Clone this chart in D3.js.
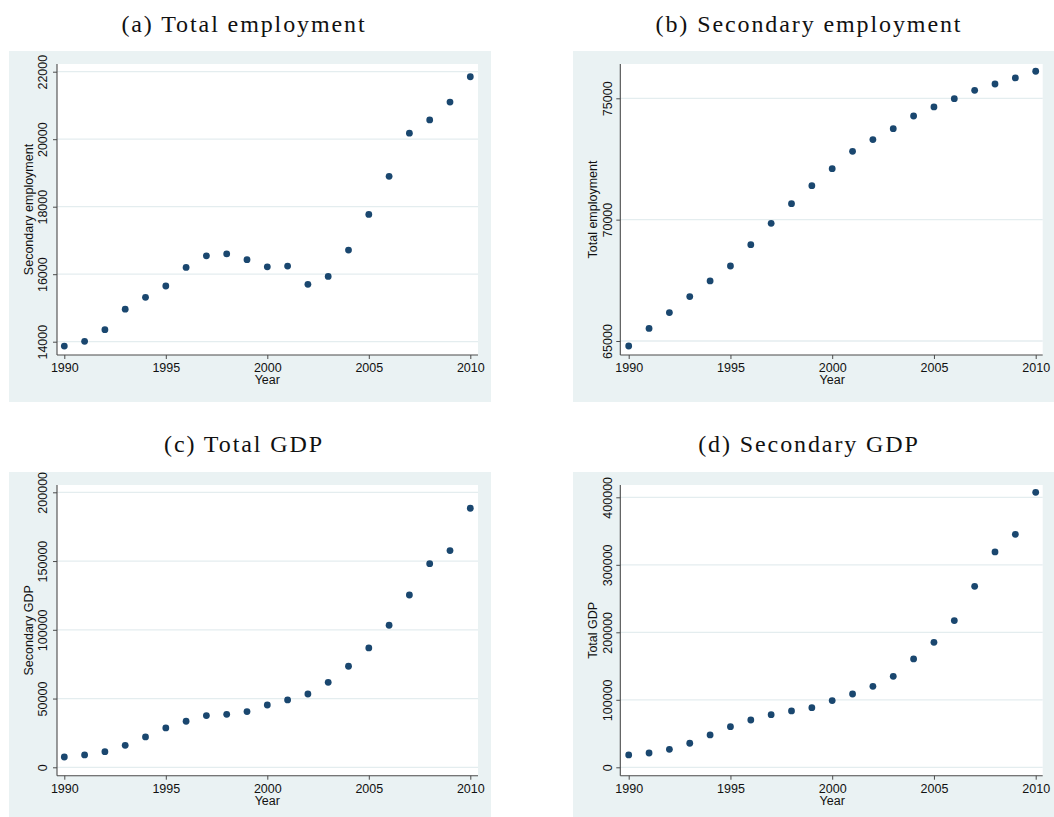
<!DOCTYPE html>
<html>
<head>
<meta charset="utf-8">
<script src="https://cdn.jsdelivr.net/npm/d3@7"></script>
<style>
  html, body { margin: 0; padding: 0; background: #ffffff; }
  svg { display: block; }
</style>
</head>
<body>
<svg id="chart" width="1054" height="817"></svg>
<script>
// Years on the horizontal axis of every panel
const years = d3.range(1990, 2011);
const yearTicks = [1990, 1995, 2000, 2005, 2010];

// Series plotted in each panel (one value per year, 1990-2010)
const secondaryEmployment = [13870, 14010, 14355, 14965, 15315, 15650, 16200, 16545, 16605, 16430, 16220,
  16240, 15700, 15935, 16715, 17770, 18900, 20180, 20570, 21100, 21850];
const totalEmployment = [64795, 65520, 66170, 66830, 67475, 68090, 68970, 69850, 70660, 71400, 72100,
  72815, 73300, 73750, 74270, 74645, 74985, 75330, 75590, 75840, 76115];
const secondaryGDP = [7500, 9000, 11400, 16000, 22100, 28600, 33500, 37600, 38500, 40500, 45300,
  49000, 53300, 61800, 73500, 86800, 103300, 125300, 148100, 157600, 188400];
const totalGDP = [18300, 21200, 26700, 35600, 47900, 60200, 70100, 78000, 83500, 88400, 98800,
  108600, 120000, 134800, 160500, 185200, 217300, 268100, 319000, 345200, 407400];

// Vertical-axis tick values per panel
const ticksA = [14000, 16000, 18000, 20000, 22000];
const ticksB = [65000, 70000, 75000];
const ticksC = [0, 50000, 100000, 150000, 200000];
const ticksD = [0, 100000, 200000, 300000, 400000];

// Panel titles and axis titles
const titles = ["(a) Total employment", "(b) Secondary employment", "(c) Total GDP", "(d) Secondary GDP"];
const yTitles = ["Secondary employment", "Total employment", "Secondary GDP", "Total GDP"];

const BG = "#eaf2f3";
const GRID = "#e4edef";
const MARK = "#1a476f";
const AXIS = "#4a4a4a";

const panels = [
  { title: titles[0], yTitle: yTitles[0], values: secondaryEmployment, ticks: ticksA,
    bg: [9, 51, 491, 402], plot: [57, 64, 478, 355], xr: [64.3, 470.3], yr: [341.7, 71.7],
    titleX: 244, titleY: 32, ytx: 32.5, ylx: 46.5 },
  { title: titles[1], yTitle: yTitles[1], values: totalEmployment, ticks: ticksB,
    bg: [573, 51, 1054, 402], plot: [620.3, 64, 1042.7, 355], xr: [628.7, 1035.7], yr: [341, 98.3],
    titleX: 809, titleY: 32, ytx: 596.5, ylx: 611.5 },
  { title: titles[2], yTitle: yTitles[2], values: secondaryGDP, ticks: ticksC,
    bg: [9, 472, 491, 817], plot: [57, 485, 478, 775.7], xr: [64.3, 470.3], yr: [767.3, 492.3],
    titleX: 244, titleY: 452, ytx: 32.5, ylx: 46.5 },
  { title: titles[3], yTitle: yTitles[3], values: totalGDP, ticks: ticksD,
    bg: [573, 472, 1054, 817], plot: [620.3, 485, 1042.7, 775.7], xr: [628.7, 1035.7], yr: [767.3, 497.3],
    titleX: 809, titleY: 452, ytx: 596.5, ylx: 611.5 }
];

const svg = d3.select("#chart");

panels.forEach(p => {
  const g = svg.append("g");
  const [bx0, by0, bx1, by1] = p.bg;
  const [px0, py0, px1, py1] = p.plot;

  const x = d3.scaleLinear().domain([1990, 2010]).range(p.xr);
  const y = d3.scaleLinear().domain(d3.extent(p.ticks)).range(p.yr);

  // Panel title (LaTeX-style caption)
  g.append("text")
    .attr("x", p.titleX).attr("y", p.titleY)
    .attr("text-anchor", "middle")
    .attr("font-family", "'Liberation Serif', 'Times New Roman', serif")
    .attr("font-size", 24)
    .attr("letter-spacing", 1.9)
    .attr("fill", "#111")
    .text(p.title);

  // Graph region and plot region
  g.append("rect").attr("x", bx0).attr("y", by0).attr("width", bx1 - bx0).attr("height", by1 - by0).attr("fill", BG);
  g.append("rect").attr("x", px0).attr("y", py0).attr("width", px1 - px0).attr("height", py1 - py0).attr("fill", "#ffffff");

  // Horizontal grid lines
  g.append("g").selectAll("line").data(p.ticks).join("line")
    .attr("x1", px0).attr("x2", px1)
    .attr("y1", d => y(d)).attr("y2", d => y(d))
    .attr("stroke", GRID).attr("stroke-width", 1.3);

  // Y axis
  const ya = g.append("g").attr("transform", `translate(${px0},0)`)
    .call(d3.axisLeft(y).tickValues(p.ticks).tickSize(4).tickFormat(d3.format("d")));
  ya.select(".domain").remove();
  ya.selectAll(".tick line").attr("stroke", AXIS);
  ya.selectAll(".tick text")
    .attr("x", null).attr("dy", null)
    .attr("transform", `translate(${p.ylx - px0},0) rotate(-90)`)
    .attr("text-anchor", "middle")
    .attr("font-family", "'Liberation Sans', Arial, sans-serif")
    .attr("font-size", 12.5)
    .attr("fill", "#111");

  // X axis
  const xa = g.append("g").attr("transform", `translate(0,${py1})`)
    .call(d3.axisBottom(x).tickValues(yearTicks).tickSize(4).tickPadding(4).tickFormat(d3.format("d")));
  xa.select(".domain").remove();
  xa.selectAll(".tick line").attr("stroke", AXIS);
  xa.selectAll(".tick text")
    .attr("dy", "0.71em")
    .attr("font-family", "'Liberation Sans', Arial, sans-serif")
    .attr("font-size", 12.5)
    .attr("fill", "#111");

  // Axis lines spanning the plot region
  g.append("line").attr("x1", px0).attr("x2", px0).attr("y1", py0).attr("y2", py1)
    .attr("stroke", AXIS).attr("stroke-width", 1.1);
  g.append("line").attr("x1", px0).attr("x2", px1).attr("y1", py1).attr("y2", py1)
    .attr("stroke", AXIS).attr("stroke-width", 1.1);

  // Axis titles
  g.append("text")
    .attr("x", x(2000)).attr("y", py1 + 29)
    .attr("text-anchor", "middle")
    .attr("font-family", "'Liberation Sans', Arial, sans-serif")
    .attr("font-size", 12.5)
    .attr("fill", "#111")
    .text("Year");
  g.append("text")
    .attr("transform", `translate(${p.ytx},${(py0 + py1) / 2}) rotate(-90)`)
    .attr("text-anchor", "middle")
    .attr("font-family", "'Liberation Sans', Arial, sans-serif")
    .attr("font-size", 12.5)
    .attr("fill", "#111")
    .text(p.yTitle);

  // Scatter markers
  g.append("g").selectAll("circle").data(years).join("circle")
    .attr("cx", (d) => x(d))
    .attr("cy", (d, i) => y(p.values[i]))
    .attr("r", 3.4)
    .attr("fill", MARK);
});
</script>
</body>
</html>
